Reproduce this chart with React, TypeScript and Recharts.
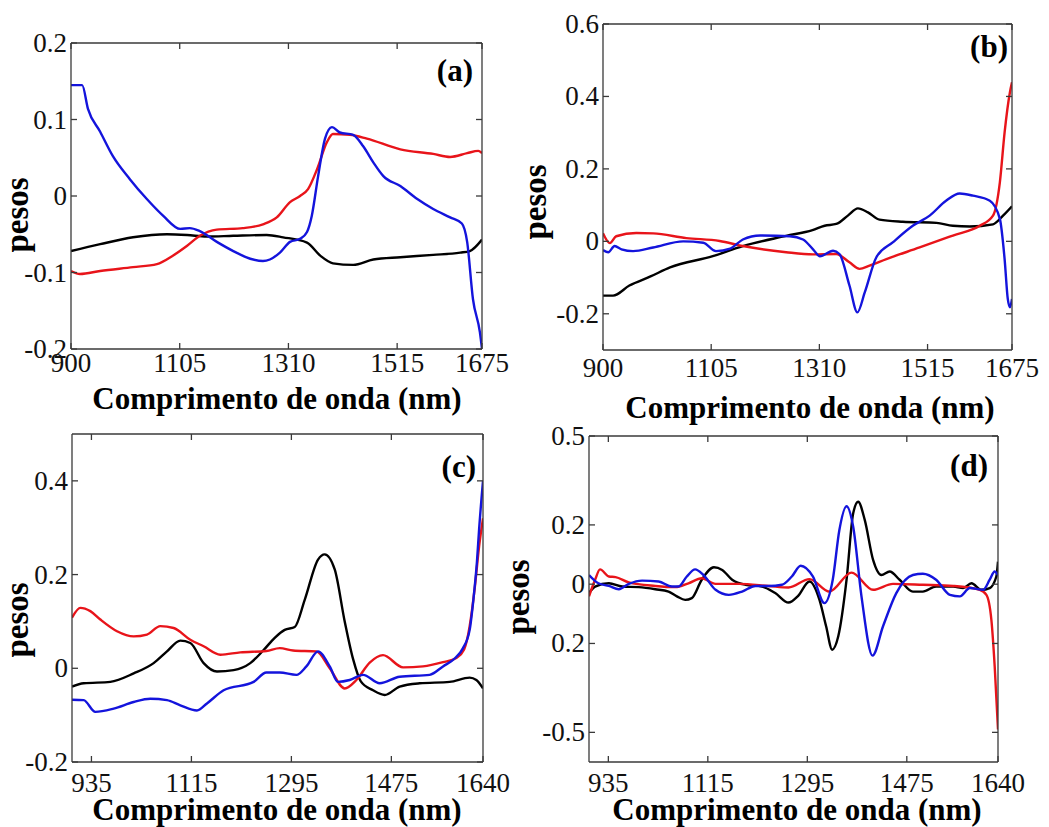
import { LineChart, Line, XAxis, YAxis } from 'recharts';

type Pt = [number, number];

const SERIF = 'Liberation Serif';
const FRAME = '#3a3a3a';
const RED = '#e8141a';
const BLUE = '#1414dc';
const BLACK = '#000000';
const TICK_LEN = 6;

const xTitle = 'Comprimento de onda (nm)';
const yTitle = 'pesos';

// ---------- panel (a) ----------
const aXTicks = [900, 1105, 1310, 1515, 1675];
const aXLabels = ['900', '1105', '1310', '1515', '1675'];
const aYTicks = [-0.2, -0.1, 0, 0.1, 0.2];
const aYLabels = ['-0.2', '-0.1', '0', '0.1', '0.2'];

const aBlack: Pt[] = [
  [900, -0.072], [955, -0.063], [1017, -0.054], [1081, -0.05], [1119, -0.051], [1156, -0.053],
  [1206, -0.052], [1269, -0.051], [1300, -0.054], [1345, -0.061], [1370, -0.078], [1394, -0.088],
  [1432, -0.09], [1470, -0.083], [1521, -0.08], [1583, -0.077], [1634, -0.074], [1652, -0.072],
  [1675, -0.057],
];
const aRed: Pt[] = [
  [900, -0.098], [917, -0.102], [955, -0.098], [1017, -0.093], [1062, -0.089], [1092, -0.078],
  [1119, -0.065], [1143, -0.052], [1175, -0.044], [1224, -0.042], [1262, -0.037], [1288, -0.028],
  [1313, -0.008], [1332, 0], [1347, 0.009], [1364, 0.035], [1383, 0.071], [1394, 0.081],
  [1426, 0.08], [1458, 0.075], [1521, 0.061], [1583, 0.055], [1615, 0.051], [1647, 0.056],
  [1668, 0.059], [1675, 0.056],
];
const aBlue: Pt[] = [
  [900, 0.145], [921, 0.145], [932, 0.114], [955, 0.084], [979, 0.052], [1011, 0.022],
  [1043, -0.004], [1074, -0.026], [1106, -0.043], [1124, -0.042], [1143, -0.046], [1175, -0.06],
  [1206, -0.072], [1238, -0.082], [1262, -0.085], [1275, -0.083], [1294, -0.074], [1313, -0.06],
  [1332, -0.056], [1345, -0.047], [1354, -0.026], [1366, 0.026], [1379, 0.075], [1392, 0.09],
  [1407, 0.083], [1432, 0.08], [1451, 0.065], [1470, 0.044], [1489, 0.026], [1521, 0.013],
  [1553, -0.004], [1583, -0.017], [1615, -0.028], [1637, -0.036], [1647, -0.06], [1658, -0.135],
  [1671, -0.178], [1675, -0.2],
];

// ---------- panel (b) ----------
const bXTicks = [900, 1105, 1310, 1515, 1675];
const bXLabels = ['900', '1105', '1310', '1515', '1675'];
const bYTicks = [-0.2, 0, 0.2, 0.4, 0.6];
const bYLabels = ['-0.2', '0', '0.2', '0.4', '0.6'];

const bBlack: Pt[] = [
  [900, -0.15], [919, -0.15], [950, -0.122], [990, -0.097], [1027, -0.072], [1108, -0.041],
  [1165, -0.013], [1247, 0.015], [1297, 0.031], [1320, 0.043], [1342, 0.048], [1364, 0.071],
  [1383, 0.091], [1402, 0.08], [1424, 0.06], [1468, 0.054], [1532, 0.051], [1563, 0.043],
  [1595, 0.041], [1639, 0.047], [1658, 0.071], [1675, 0.097],
];
const bRed: Pt[] = [
  [900, 0.022], [913, -0.005], [925, 0.014], [963, 0.023], [995, 0.022], [1058, 0.009],
  [1121, 0.001], [1165, -0.013], [1247, -0.03], [1298, -0.036], [1342, -0.035], [1367, -0.058],
  [1386, -0.076], [1405, -0.067], [1437, -0.049], [1500, -0.017], [1563, 0.016], [1614, 0.043],
  [1639, 0.071], [1652, 0.163], [1661, 0.301], [1671, 0.411], [1675, 0.439],
];
const bBlue: Pt[] = [
  [900, -0.024], [910, -0.03], [922, -0.013], [935, -0.022], [957, -0.027], [995, -0.017],
  [1052, 0], [1090, -0.004], [1114, -0.027], [1141, -0.02], [1165, 0.005], [1198, 0.016],
  [1254, 0.014], [1279, 0.005], [1298, -0.022], [1311, -0.041], [1336, -0.026], [1348, -0.035],
  [1367, -0.122], [1382, -0.196], [1396, -0.141], [1418, -0.044], [1449, -0.003], [1487, 0.043],
  [1519, 0.071], [1550, 0.112], [1576, 0.132], [1601, 0.126], [1633, 0.112], [1652, 0.062],
  [1661, -0.049], [1667, -0.159], [1671, -0.182], [1675, -0.159],
];

// ---------- panel (c) ----------
const cXTicks = [935, 1115, 1295, 1475, 1640];
const cXLabels = ['935', '1115', '1295', '1475', '1640'];
const cYTicks = [-0.2, 0, 0.2, 0.4];
const cYLabels = ['-0.2', '0', '0.2', '0.4'];

const cBlack: Pt[] = [
  [900, -0.039], [921, -0.032], [969, -0.029], [1011, -0.011], [1047, 0.011], [1071, 0.036],
  [1095, 0.059], [1113, 0.054], [1137, 0.011], [1161, -0.007], [1191, -0.004], [1221, 0.011],
  [1245, 0.039], [1265, 0.065], [1283, 0.082], [1301, 0.088], [1319, 0.146], [1343, 0.232],
  [1355, 0.243], [1373, 0.211], [1391, 0.1], [1406, 0.02], [1420, -0.028], [1442, -0.047],
  [1463, -0.057], [1490, -0.039], [1526, -0.032], [1580, -0.029], [1616, -0.02], [1628, -0.025],
  [1640, -0.043],
];
const cRed: Pt[] = [
  [900, 0.108], [915, 0.129], [933, 0.122], [951, 0.104], [981, 0.079], [1011, 0.068],
  [1035, 0.072], [1059, 0.09], [1083, 0.086], [1113, 0.061], [1137, 0.047], [1167, 0.029],
  [1203, 0.034], [1250, 0.037], [1274, 0.043], [1298, 0.038], [1340, 0.036], [1364, 0],
  [1391, -0.043], [1412, -0.025], [1436, 0.012], [1460, 0.028], [1496, 0.002], [1532, 0.004],
  [1568, 0.013], [1592, 0.022], [1606, 0.04], [1616, 0.09], [1625, 0.17], [1633, 0.26],
  [1640, 0.32],
];
const cBlue: Pt[] = [
  [900, -0.067], [921, -0.068], [942, -0.093], [975, -0.086], [1011, -0.072], [1041, -0.065],
  [1071, -0.068], [1095, -0.079], [1125, -0.09], [1143, -0.075], [1173, -0.047], [1227, -0.029],
  [1250, -0.009], [1274, -0.009], [1304, -0.014], [1322, 0.004], [1343, 0.036], [1364, 0.004],
  [1379, -0.029], [1400, -0.025], [1424, -0.014], [1454, -0.032], [1490, -0.018], [1544, -0.014],
  [1568, 0.004], [1590, 0.022], [1604, 0.043], [1616, 0.082], [1623, 0.15], [1629, 0.226],
  [1633, 0.297], [1640, 0.4],
];

// ---------- panel (d) ----------
const dXTicks = [935, 1115, 1295, 1475, 1640];
const dXLabels = ['935', '1115', '1295', '1475', '1640'];
const dYTicks = [-0.5, -0.2, 0, 0.2, 0.5];
const dYLabels = ['-0.5', '0.2', '0', '0.2', '0.5'];

const dBlack: Pt[] = [
  [900, -0.03], [911, -0.008], [936, 0.003], [960, -0.008], [990, -0.01], [1020, -0.017],
  [1044, -0.025], [1059, -0.041], [1074, -0.053], [1086, -0.047], [1104, 0.015], [1126, 0.057],
  [1141, 0.048], [1159, 0.015], [1183, -0.002], [1213, -0.008], [1237, -0.03], [1261, -0.062],
  [1278, -0.04], [1299, 0.009], [1317, -0.053], [1329, -0.142], [1340, -0.221], [1351, -0.176],
  [1366, 0.015], [1378, 0.239], [1387, 0.278], [1399, 0.216], [1414, 0.082], [1429, 0.031],
  [1444, 0.043], [1462, 0.015], [1486, -0.025], [1504, -0.025], [1528, -0.008], [1559, -0.008],
  [1577, -0.013], [1592, 0.003], [1610, -0.019], [1625, -0.013], [1637, 0.026], [1640, 0.076],
];
const dRed: Pt[] = [
  [900, -0.041], [911, 0.015], [920, 0.05], [936, 0.026], [948, 0.024], [972, 0.006],
  [1020, -0.006], [1056, -0.01], [1080, 0.003], [1104, 0.02], [1129, 0.001], [1171, 0.001],
  [1225, -0.006], [1261, -0.011], [1299, 0.017], [1335, -0.025], [1375, 0.039], [1414, -0.019],
  [1450, 0.001], [1504, -0.002], [1559, -0.006], [1607, -0.019], [1619, -0.036], [1628, -0.12],
  [1634, -0.277], [1640, -0.49],
];
const dBlue: Pt[] = [
  [900, 0.031], [917, 0.003], [936, -0.006], [954, -0.017], [972, 0.001], [996, 0.012],
  [1026, 0.009], [1050, -0.008], [1062, -0.008], [1077, 0.026], [1092, 0.05], [1107, 0.031],
  [1129, -0.019], [1153, -0.036], [1177, -0.025], [1201, -0.006], [1225, -0.006], [1249, -0.002],
  [1267, 0.026], [1283, 0.062], [1305, 0.026], [1326, -0.064], [1341, 0.015], [1353, 0.183],
  [1366, 0.263], [1378, 0.194], [1393, -0.041], [1413, -0.241], [1432, -0.142], [1456, -0.03],
  [1486, 0.031], [1504, 0.035], [1528, 0.015], [1553, -0.036], [1571, -0.041], [1589, -0.013],
  [1613, -0.019], [1625, 0.015], [1634, 0.043], [1640, 0.031],
];

const toRows = (pts: Pt[]) => pts.map(([x, y]) => ({ x, y }));

type Side = 'bottom' | 'top' | 'left' | 'right';

// ticks point inward (MATLAB box style); labels only on bottom/left
function makeTick(side: Side, ticks: number[], labels: string[] | null, labelGap: number) {
  return (p: any) => {
    const { x, y } = p;
    const i = ticks.indexOf(p.payload.value);
    let x2 = x;
    let y2 = y;
    if (side === 'bottom') y2 = y - TICK_LEN;
    if (side === 'top') y2 = y + TICK_LEN;
    if (side === 'left') x2 = x + TICK_LEN;
    if (side === 'right') x2 = x - TICK_LEN;
    return (
      <g>
        <line x1={x} y1={y} x2={x2} y2={y2} stroke={FRAME} strokeWidth={1.3} />
        {labels && side === 'bottom' && (
          <text x={x} y={y + labelGap} textAnchor="middle" fontSize={27} fontFamily={SERIF} fill="#111">
            {labels[i]}
          </text>
        )}
        {labels && side === 'left' && (
          <text x={x - 4} y={y + 9} textAnchor="end" fontSize={27} fontFamily={SERIF} fill="#111">
            {labels[i]}
          </text>
        )}
      </g>
    );
  };
}

interface Series {
  pts: Pt[];
  color: string;
}

interface PanelProps {
  left: number;
  top: number;
  width: number;
  height: number;
  margin: { top: number; right: number; bottom: number; left: number };
  xDomain: [number, number];
  xTicks: number[];
  xLabels: string[];
  yDomain: [number, number];
  yTicks: number[];
  yLabels: string[];
  labelGap: number;
  series: Series[];
}

function Panel(props: PanelProps) {
  const { xDomain, xTicks, yDomain, yTicks } = props;
  const axisLine = { stroke: FRAME, strokeWidth: 1.3 };
  const common = { allowDataOverflow: true, mirror: true, interval: 0 as const, tickSize: 0, tickMargin: 0, tickLine: false, axisLine };
  return (
    <div style={{ position: 'absolute', left: props.left, top: props.top }}>
      <LineChart width={props.width} height={props.height} margin={props.margin}>
        <XAxis xAxisId="b" orientation="bottom" type="number" dataKey="x" domain={xDomain} ticks={xTicks}
          tick={makeTick('bottom', xTicks, props.xLabels, props.labelGap)} {...common} />
        <XAxis xAxisId="t" orientation="top" type="number" dataKey="x" domain={xDomain} ticks={xTicks}
          tick={makeTick('top', xTicks, null, 0)} {...common} />
        <YAxis yAxisId="l" orientation="left" type="number" domain={yDomain} ticks={yTicks}
          tick={makeTick('left', yTicks, props.yLabels, 0)} {...common} />
        <YAxis yAxisId="r" orientation="right" type="number" domain={yDomain} ticks={yTicks}
          tick={makeTick('right', yTicks, null, 0)} {...common} />
        {props.series.map((s, i) => (
          <Line key={i} xAxisId="b" yAxisId="l" data={toRows(s.pts)} dataKey="y" type="monotone"
            stroke={s.color} strokeWidth={2.4} dot={false} activeDot={false} isAnimationActive={false} />
        ))}
      </LineChart>
    </div>
  );
}

export default function App() {
  return (
    <div style={{ position: 'absolute', left: 0, top: 0, width: 1049, height: 827, background: '#fff', overflow: 'hidden' }}>
      <Panel left={0} top={0} width={520} height={385} margin={{ top: 43, right: 38, bottom: 36, left: 71 }}
        xDomain={[900, 1675]} xTicks={aXTicks} xLabels={aXLabels} yDomain={[-0.2, 0.2]} yTicks={aYTicks}
        yLabels={aYLabels} labelGap={23}
        series={[{ pts: aBlack, color: BLACK }, { pts: aRed, color: RED }, { pts: aBlue, color: BLUE }]} />
      <Panel left={520} top={0} width={529} height={385} margin={{ top: 24, right: 37, bottom: 35, left: 83 }}
        xDomain={[900, 1675]} xTicks={bXTicks} xLabels={bXLabels} yDomain={[-0.3, 0.6]} yTicks={bYTicks}
        yLabels={bYLabels} labelGap={27}
        series={[{ pts: bBlack, color: BLACK }, { pts: bRed, color: RED }, { pts: bBlue, color: BLUE }]} />
      <Panel left={0} top={412} width={520} height={395} margin={{ top: 22, right: 37, bottom: 45, left: 72 }}
        xDomain={[900, 1640]} xTicks={cXTicks} xLabels={cXLabels} yDomain={[-0.2, 0.5]} yTicks={cYTicks}
        yLabels={cYLabels} labelGap={30}
        series={[{ pts: cBlack, color: BLACK }, { pts: cRed, color: RED }, { pts: cBlue, color: BLUE }]} />
      <Panel left={520} top={412} width={529} height={395} margin={{ top: 24, right: 51, bottom: 45, left: 69 }}
        xDomain={[900, 1640]} xTicks={dXTicks} xLabels={dXLabels} yDomain={[-0.6, 0.5]} yTicks={dYTicks}
        yLabels={dYLabels} labelGap={30}
        series={[{ pts: dBlack, color: BLACK }, { pts: dRed, color: RED }, { pts: dBlue, color: BLUE }]} />

      {/* axis titles and panel tags */}
      <svg width={1049} height={827} style={{ position: 'absolute', left: 0, top: 0, pointerEvents: 'none' }}>
        <text x={277} y={409} fontSize={31} fontWeight="bold" fontFamily={SERIF} textAnchor="middle">{xTitle}</text>
        <text x={810} y={418} fontSize={31} fontWeight="bold" fontFamily={SERIF} textAnchor="middle">{xTitle}</text>
        <text x={277} y={820} fontSize={31} fontWeight="bold" fontFamily={SERIF} textAnchor="middle">{xTitle}</text>
        <text x={797} y={820} fontSize={31} fontWeight="bold" fontFamily={SERIF} textAnchor="middle">{xTitle}</text>

        <text transform="translate(28,215) rotate(-90)" fontSize={33} fontWeight="bold" fontFamily={SERIF} textAnchor="middle">{yTitle}</text>
        <text transform="translate(546,202) rotate(-90)" fontSize={33} fontWeight="bold" fontFamily={SERIF} textAnchor="middle">{yTitle}</text>
        <text transform="translate(28,620) rotate(-90)" fontSize={33} fontWeight="bold" fontFamily={SERIF} textAnchor="middle">{yTitle}</text>
        <text transform="translate(529,597) rotate(-90)" fontSize={33} fontWeight="bold" fontFamily={SERIF} textAnchor="middle">{yTitle}</text>

        <text x={473} y={81} fontSize={31} fontWeight="bold" fontFamily={SERIF} textAnchor="end">(a)</text>
        <text x={1008} y={57} fontSize={31} fontWeight="bold" fontFamily={SERIF} textAnchor="end">(b)</text>
        <text x={476} y={477} fontSize={31} fontWeight="bold" fontFamily={SERIF} textAnchor="end">(c)</text>
        <text x={988} y={476} fontSize={31} fontWeight="bold" fontFamily={SERIF} textAnchor="end">(d)</text>
      </svg>
    </div>
  );
}
